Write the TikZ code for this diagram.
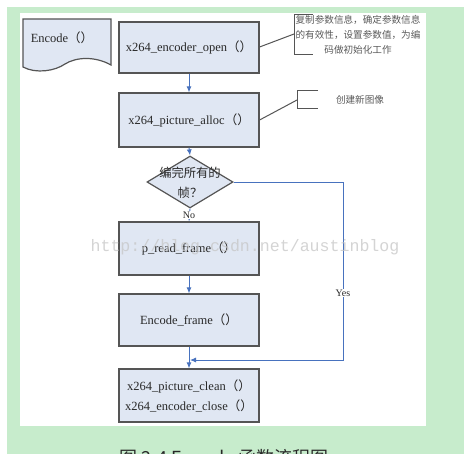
\documentclass[tikz,border=0pt]{standalone}
\usepackage{fontspec}
\setmainfont{Liberation Serif}
\newfontfamily\cjk{Noto Sans CJK SC}
\newfontfamily\wmfont{Liberation Mono}
\usetikzlibrary{shapes.geometric,arrows.meta}
\definecolor{bggreen}{RGB}{199,236,204}
\definecolor{boxfill}{RGB}{224,231,243}
\definecolor{boxline}{RGB}{85,85,85}
\definecolor{arrblue}{RGB}{72,114,190}
\definecolor{txt}{RGB}{40,40,40}
\definecolor{notetxt}{RGB}{90,90,90}
\tikzset{
  procbox/.style={draw=boxline, line width=1.2pt, fill=boxfill, minimum width=140pt, text=txt, font=\fontsize{12.5}{15}\selectfont, inner sep=0pt},
  decbox/.style={diamond, draw=boxline, line width=1.2pt, fill=boxfill, minimum width=86pt, minimum height=52pt, aspect=1.65, inner sep=0pt},
  dectext/.style={text=txt, font=\cjk\fontsize{12.3}{20}\selectfont, align=center, inner sep=0pt},
  arr/.style={draw=arrblue, line width=0.9pt, -{Latex[length=6pt,width=5pt]}},
  noteline/.style={draw=boxline, line width=1pt},
  notetext/.style={text=notetxt, font=\cjk\fontsize{9.6}{15}\selectfont, align=center, inner sep=0pt},
  lbl/.style={text=txt, font=\fontsize{10}{12}\selectfont, fill=white, inner sep=1pt}
}
\begin{document}
\begin{tikzpicture}[x=1pt,y=-1pt]
\useasboundingbox (0,0) rectangle (473,454);
\fill[white] (0,0) rectangle (473,454);
\fill[bggreen] (7,7) rectangle (464,454);
\fill[white] (20,13) rectangle (426,426);
% caption (cut off at bottom)
\node[anchor=base, text=txt, font=\cjk\fontsize{18}{20}\selectfont, inner sep=0pt] (cap) at (224,464) {图 2-4 Encode 函数流程图};
% document shape
\draw[draw=boxline, line width=1.2pt, fill=boxfill] (23,19) -- (111,19) -- (111,65)
  .. controls (95,56) and (76,57) .. (65,64) .. controls (55,71) and (36,74) .. (23,67) -- cycle;
\node[text=txt, font=\fontsize{12.5}{15}\selectfont, inner sep=0pt] (encdoc) at (62,38) {Encode{\cjk（）}};
% process boxes
\node[procbox, minimum height=51pt] (open) at (189,47.5) {x264\_encoder\_open{\cjk（）}};
\node[procbox, minimum height=54pt] (alloc) at (189,120) {x264\_picture\_alloc{\cjk（）}};
\node[decbox] (dec) at (190,182) {};
\node[dectext] (dect) at (190,183) {编完所有的\\帧？};
\node[procbox, minimum height=53pt] (read) at (189,248.5) {p\_read\_frame{\cjk（）}};
\node[procbox, minimum height=52pt] (encf) at (189,320) {Encode\_frame{\cjk（）}};
\node[procbox, minimum height=53pt, align=center, font=\fontsize{12.5}{20}\selectfont] (clean) at (189,395.5) {x264\_picture\_clean{\cjk（）}\\x264\_encoder\_close{\cjk（）}};
% arrows
\draw[arr] (open.south) -- (alloc.north);
\draw[arr] (alloc.south) -- (dec.north);
\draw[arr] (dec.south) -- (read.north);
\draw[arr] (read.south) -- (encf.north);
\draw[arr] (encf.south) -- (clean.north);
\coordinate (yesend) at (190,360);
\coordinate (yescorner) at (343,182);
\draw[arr] (dec.east) -- (yescorner) |- (yesend);
\node[lbl] (yes) at (343,293) {Yes};
\node[lbl] (no) at (189,215) {No};
% annotation 1
\coordinate (b1t) at (294,15);
\coordinate (b1b) at (294,55);
\coordinate (b1m) at (294,34);
\draw[noteline] (open.east |- 0,47) -- (b1m);
\draw[noteline] (313,15) -- (b1t) -- (b1b) -- (313,55);
\node[notetext] (note1) at (358,35) {复制参数信息，确定参数信息\\的有效性，设置参数值，为编\\码做初始化工作};
% annotation 2
\coordinate (b2m) at (297,100);
\draw[noteline] (alloc.east) -- (b2m);
\draw[noteline] (318,91) -- (297,91) -- (297,109) -- (318,109);
\node[notetext] (note2) at (360,100) {创建新图像};
% watermark
\node[text=gray!45, opacity=0.75, font=\wmfont\fontsize{16.6}{18}\selectfont, inner sep=0pt] (wm) at (245,247) {http://blog.csdn.net/austinblog};
\end{tikzpicture}
\end{document}
